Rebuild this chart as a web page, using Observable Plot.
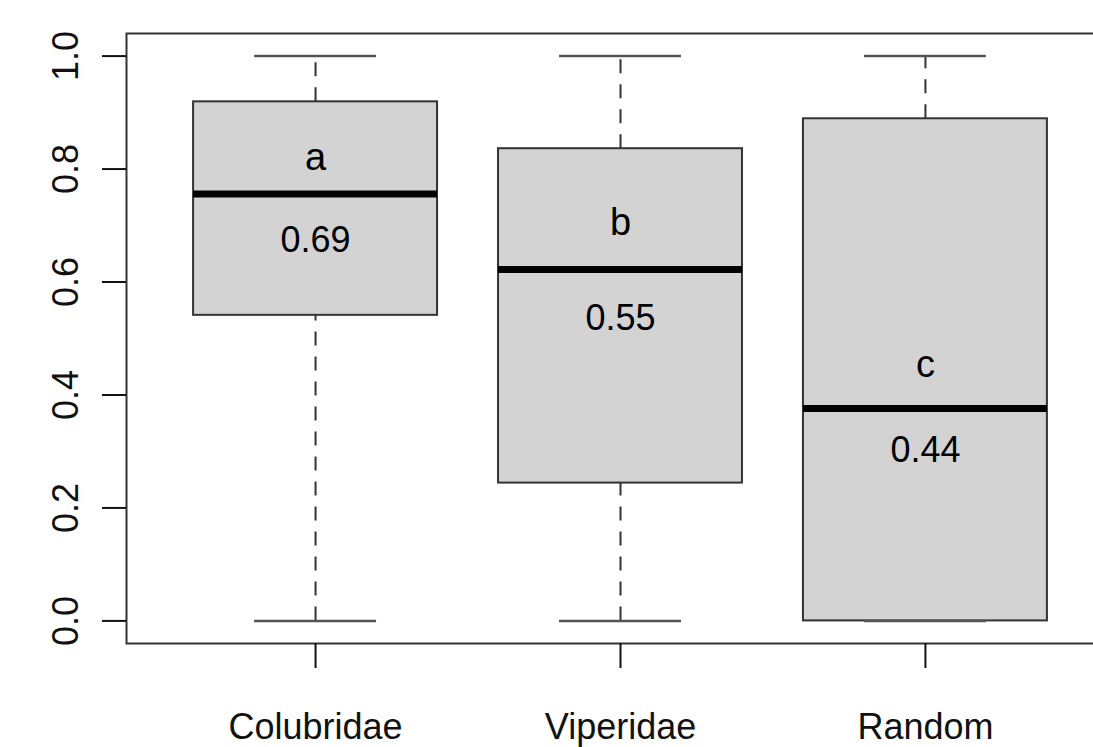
<!DOCTYPE html>
<html><head><meta charset="utf-8">
<script src="https://cdn.jsdelivr.net/npm/d3@7"></script>
<script src="https://cdn.jsdelivr.net/npm/@observablehq/plot@0.6"></script>
<style>
html,body{margin:0;padding:0;background:#fff}
#chart{width:1093px;height:747px;overflow:hidden;position:relative}
#chart svg{max-width:none !important}
</style>
</head><body><div id="chart"></div>
<script>
// ---- data ----
const categories = ["Colubridae", "Viperidae", "Random"];
const positions = [1, 2, 3];
const whiskerLow = [0, 0, 0];
const whiskerHigh = [1, 1, 1];
const q1 = [0.541, 0.244, 0.0];
const median = [0.756, 0.622, 0.376];
const q3 = [0.919, 0.836, 0.889];
const letters = ["a", "b", "c"];
const letterY = [0.819, 0.705, 0.454];
const meanLabels = ["0.69", "0.55", "0.44"];
const meanLabelY = [0.674, 0.535, 0.302];
const yTicks = [0, 0.2, 0.4, 0.6, 0.8, 1.0];

const boxHalf = 0.4, capHalf = 0.2;
const rows = categories.map((c, i) => ({
  cat: c, pos: positions[i], lo: whiskerLow[i], hi: whiskerHigh[i],
  q1: q1[i], med: median[i], q3: q3[i],
  letter: letters[i], letterY: letterY[i], label: meanLabels[i], labelY: meanLabelY[i]
}));

const font = "'Liberation Sans', Arial, Helvetica, sans-serif";

const chart = Plot.plot({
  width: 1140,
  height: 747,
  marginLeft: 126,
  marginRight: 26,
  marginTop: 33,
  marginBottom: 104,
  style: {fontFamily: font, fontSize: "36px", color: "#111", background: "white", maxWidth: "none"},
  x: {domain: [0.38, 3.62]},
  y: {domain: [-0.04, 1.04]},
  marks: [
    Plot.ruleX(rows, {x: "pos", y1: "q3", y2: "hi", stroke: "#333", strokeWidth: 2, strokeDasharray: "14,11"}),
    Plot.ruleX(rows, {x: "pos", y1: "lo", y2: "q1", stroke: "#333", strokeWidth: 2, strokeDasharray: "14,11"}),
    Plot.ruleY(rows, {y: "hi", x1: d => d.pos - capHalf, x2: d => d.pos + capHalf, stroke: "#555", strokeWidth: 2.5}),
    Plot.rect(rows, {x1: d => d.pos - boxHalf, x2: d => d.pos + boxHalf, y1: "q1", y2: "q3", fill: "#d3d3d3", stroke: "#333", strokeWidth: 2}),
    Plot.ruleY(rows, {y: "lo", x1: d => d.pos - capHalf, x2: d => d.pos + capHalf, stroke: "#555", strokeWidth: 2.5}),
    Plot.ruleY(rows, {y: "med", x1: d => d.pos - boxHalf, x2: d => d.pos + boxHalf, stroke: "#000", strokeWidth: 7}),
    Plot.text(rows, {x: "pos", y: "letterY", text: "letter", fontSize: 38, fill: "#000"}),
    Plot.text(rows, {x: "pos", y: "labelY", text: "label", fontSize: 36, fill: "#000"}),
    Plot.frame({stroke: "#333", strokeWidth: 2}),
    Plot.axisY(yTicks, {tickSize: 24, tickRotate: -90, tickPadding: 25, tickFormat: d3.format(".1f"), fontSize: 36, strokeWidth: 2, label: null}),
    Plot.axisX(positions, {tickSize: 25, tickPadding: 45, tickFormat: d => categories[d - 1], fontSize: 36, strokeWidth: 2, label: null})
  ]
});
document.getElementById("chart").appendChild(chart);
</script>
</body></html>
